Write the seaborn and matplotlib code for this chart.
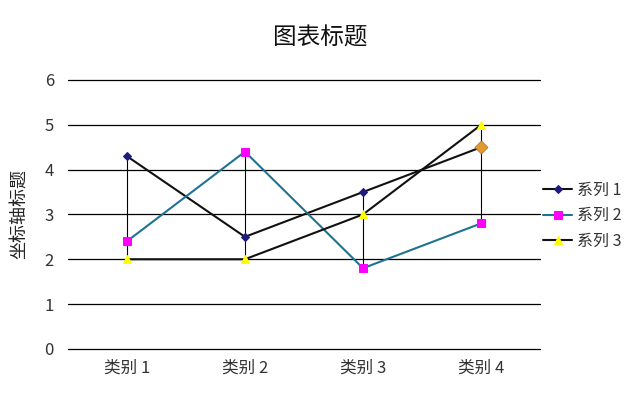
import matplotlib
matplotlib.use("Agg")
import matplotlib.pyplot as plt
import seaborn as sns
import pandas as pd
import numpy as np

categories = ["类别 1", "类别 2", "类别 3", "类别 4"]
series_names = ["系列 1", "系列 2", "系列 3"]
s1 = [4.3, 2.5, 3.5, 4.5]
s2 = [2.4, 4.4, 1.8, 2.8]
s3 = [2.0, 2.0, 3.0, 5.0]
yticks = [0, 1, 2, 3, 4, 5, 6]

sns.set_theme(style="white")
plt.rcParams['font.family'] = ['Noto Sans CJK SC', 'DejaVu Sans']

fig = plt.figure(figsize=(6.4, 3.96), dpi=100)
ax = fig.add_axes([0.106, 0.119, 0.738, 0.679])

x = np.arange(len(categories))
df = pd.DataFrame({"x": np.tile(x, 3),
                   "y": s1 + s2 + s3,
                   "series": np.repeat(series_names, len(categories))})

for yv in yticks:
    ax.axhline(yv, color="black", lw=0.9, zorder=0, clip_on=False)

# high-low lines
allv = np.array([s1, s2, s3])
ax.vlines(x, allv.min(axis=0), allv.max(axis=0), color="black", lw=0.8, zorder=1)

line_colors = ["#111111", "#1F7391", "#111111"]
marker_colors = ["#1E1A80", "#FF00FF", "#FFFF00"]
markers = ["D", "s", "^"]
msizes = [4, 6, 6]
for name, lc, mc, mk, ms in zip(series_names, line_colors, marker_colors, markers, msizes):
    sub = df[df.series == name]
    sns.lineplot(data=sub, x="x", y="y", ax=ax, color=lc, lw=1.5, marker=mk,
                 markersize=ms, markerfacecolor=mc, markeredgecolor=mc,
                 label=name, zorder=3)

# special point colour for series 1, last category
last = df[(df.series == series_names[0]) & (df.x == x[-1])]
sns.scatterplot(data=last, x="x", y="y", ax=ax, marker="D", s=45,
                color="#E09A30", edgecolor="#B07020", linewidth=0.5, zorder=4, legend=False)

ax.set_xlim(-0.5, len(categories) - 0.5)
ax.set_ylim(0, 6)
ax.set_xticks(x)
ax.set_xticklabels(categories, fontsize=12, color="#333333")
ax.set_yticks(yticks)
ax.set_yticklabels([str(v) for v in yticks], fontsize=12, color="#333333")
ax.tick_params(axis="x", length=0, pad=8)
ax.tick_params(axis="y", length=0, pad=10)
for sp in ax.spines.values():
    sp.set_visible(False)
ax.set_xlabel("")
ax.set_ylabel("坐标轴标题", fontsize=13, color="#222222")
ax.yaxis.set_label_coords(-0.085, 0.5)
fig.text(0.5, 1 - 38 / 396, "图表标题", fontsize=17, color="#111111",
         ha="center", va="center")

leg = ax.legend(loc="center left", bbox_to_anchor=(1.0, 0.495), frameon=False,
                fontsize=11.5, handlelength=1.8, handletextpad=0.3, labelspacing=0.55,
                borderaxespad=0.0, borderpad=0.2)
for t in leg.get_texts():
    t.set_color("#333333")

fig.savefig("out.png", dpi=100)
